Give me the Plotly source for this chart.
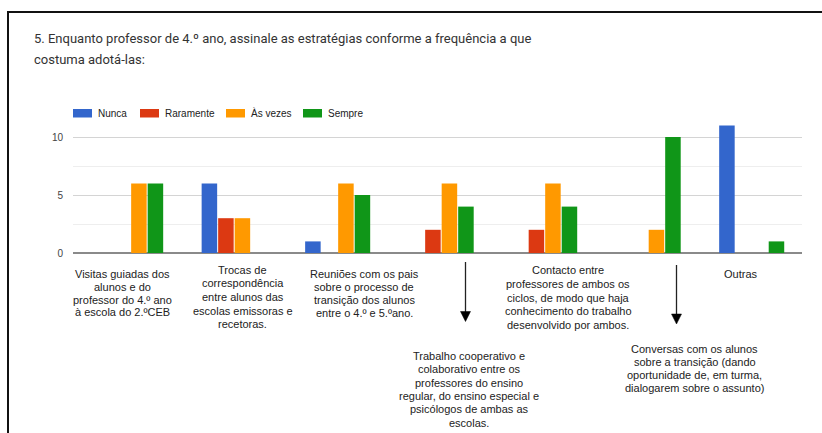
import plotly.graph_objects as go

# ---- data ---------------------------------------------------------------
# category names, split into the lines used when printing them under the bars
category_lines = [
    ["Visitas guiadas dos", "alunos e do", "professor do 4.º ano", "à escola do 2.ºCEB"],
    ["Trocas de", "correspondência", "entre alunos das", "escolas emissoras e", "recetoras."],
    ["Reuniões com os pais", "sobre o processo de", "transição dos alunos", "entre o 4.º e 5.ºano."],
    ["Trabalho cooperativo e", "colaborativo entre os", "professores do ensino",
     "regular, do ensino especial e", "psicólogos de ambas as", "escolas."],
    ["Contacto entre", "professores de ambos os", "ciclos, de modo que haja",
     "conhecimento do trabalho", "desenvolvido por ambos."],
    ["Conversas com os alunos", "sobre a transição (dando", "oportunidade de, em turma,",
     "dialogarem sobre o assunto)"],
    ["Outras"],
]
categories = [" ".join(lines) for lines in category_lines]

series_names = ["Nunca", "Raramente", "Às vezes", "Sempre"]
nunca = [0, 6, 1, 0, 0, 0, 11]
raramente = [0, 3, 0, 2, 2, 0, 0]
as_vezes = [6, 3, 6, 6, 6, 2, 0]
sempre = [6, 0, 5, 4, 4, 10, 1]
series_values = [nunca, raramente, as_vezes, sempre]

y_ticks = [0, 5, 10]

title_lines = [
    "5. Enquanto professor de 4.º ano, assinale as estratégias conforme a frequência a que",
    "costuma adotá-las:",
]

# ---- styling -----------------------------------------------------------
colors = ["#3366cc", "#dc3912", "#ff9900", "#109618"]
W, H = 822, 433
PL, PR, PT, PB = 73, 802, 108, 253  # plot area in page pixels
LABEL_FONT = dict(family="Liberation Sans, Arial, sans-serif", size=11, color="#222222")


def px(x):
    return (x - PL) / (PR - PL)


def py(y):
    return (PB - y) / (PB - PT)


fig = go.Figure()
for name, vals, col in zip(series_names, series_values, colors):
    fig.add_trace(go.Bar(
        x=categories, y=vals, name=name,
        marker=dict(color=col, line=dict(width=0)),
        hoverinfo="x+y+name",
    ))

annotations = []
shapes = []

# title (two lines)
for text, yc in zip(title_lines, [39, 59]):
    annotations.append(dict(
        text=text, xref="paper", yref="paper", x=px(32), y=py(yc),
        xanchor="left", yanchor="middle", showarrow=False,
        font=dict(family="Roboto, Arial, sans-serif", size=13, color="#333333"),
    ))

# legend: swatch + text
legend_pos = [73, 140, 226, 303]
for name, col, x0 in zip(series_names, colors, legend_pos):
    shapes.append(dict(type="rect", xref="paper", yref="paper",
                       x0=px(x0), x1=px(x0 + 19), y0=py(117.5), y1=py(109),
                       fillcolor=col, line=dict(width=0)))
    annotations.append(dict(
        text=name, xref="paper", yref="paper", x=px(x0 + 23), y=py(113),
        xanchor="left", yanchor="middle", showarrow=False,
        font=dict(family="Liberation Sans, Arial, sans-serif", size=10, color="#222222"),
    ))

# category labels: (centre x, first line y, line spacing)
label_layout = [
    (122.5, 274, 12.8),
    (242.5, 269.5, 13.7),
    (364, 274, 12.9),
    (469, 356, 13.3),
    (568, 270, 13.75),
    (694.5, 348.5, 13.3),
    (740.5, 274, 13.0),
]
for lines, (xc, y0, dy) in zip(category_lines, label_layout):
    for i, line in enumerate(lines):
        annotations.append(dict(
            text=line, xref="paper", yref="paper", x=px(xc), y=py(y0 + i * dy),
            xanchor="center", yanchor="middle", showarrow=False, font=LABEL_FONT,
        ))

# arrows pointing to the labels placed lower down
for xa, ytop, ytip in [(465.5, 262, 321.5), (676.5, 265, 324)]:
    shapes.append(dict(type="line", xref="paper", yref="paper",
                       x0=px(xa), x1=px(xa), y0=py(ytop), y1=py(ytip - 8),
                       line=dict(color="#222222", width=1.3)))
    shapes.append(dict(type="path", xref="paper", yref="paper",
                       path=f"M{px(xa - 5)},{py(ytip - 10)} L{px(xa + 5)},{py(ytip - 10)} "
                            f"L{px(xa)},{py(ytip)} Z",
                       fillcolor="#000000", line=dict(color="#000000", width=0.5)))

# frame around the form card (left and top edges)
shapes.append(dict(type="line", xref="paper", yref="paper",
                   x0=px(8), x1=px(8), y0=py(11), y1=py(440),
                   line=dict(color="#111111", width=2)))
shapes.append(dict(type="line", xref="paper", yref="paper",
                   x0=px(7), x1=px(830), y0=py(12), y1=py(12),
                   line=dict(color="#111111", width=2)))

fig.update_layout(
    width=W, height=H,
    margin=dict(l=PL, r=W - PR, t=PT, b=H - PB, pad=0),
    paper_bgcolor="white", plot_bgcolor="white",
    barmode="group", bargap=0.362, bargroupgap=0.06,
    showlegend=False,
    annotations=annotations, shapes=shapes,
    xaxis=dict(type="category", range=[-0.557, 6.486], showticklabels=False,
               showgrid=False, zeroline=False, showline=False, ticks="",
               fixedrange=True),
    yaxis=dict(range=[0, 12.5], tickmode="array", tickvals=y_ticks,
               showgrid=True, gridcolor="#d4d4d4", gridwidth=1,
               minor=dict(tickmode="linear", tick0=0, dtick=2.5, showgrid=True,
                          gridcolor="#eeeeee", gridwidth=1),
               zeroline=True, zerolinecolor="#8a8a8a", zerolinewidth=2,
               showline=False, ticks="", ticklabelstandoff=9,
               tickfont=dict(family="Liberation Sans, Arial, sans-serif", size=10, color="#444444"),
               fixedrange=True),
    font=dict(family="Liberation Sans, Arial, sans-serif"),
)

fig.write_html("out.html", config={"displayModeBar": False})
